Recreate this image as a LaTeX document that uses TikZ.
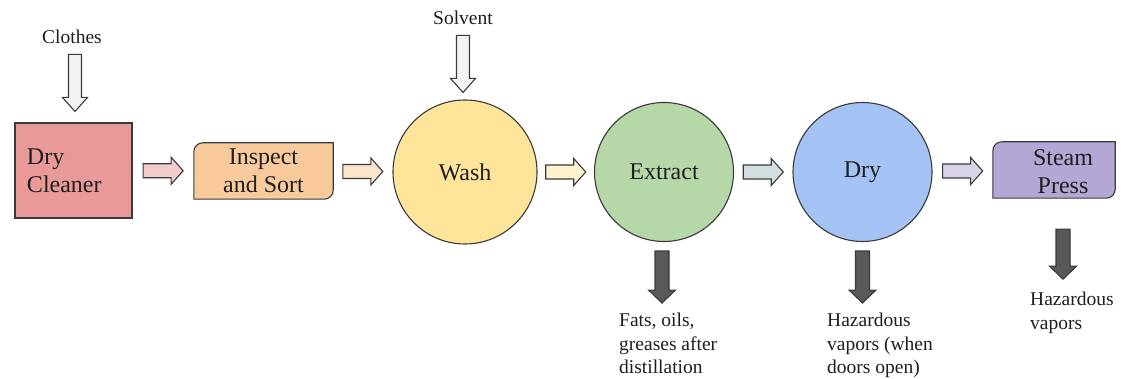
\documentclass[tikz,border=0pt]{standalone}
\usepackage{fontspec}
\setmainfont{LiberationSerif}[Extension=.ttf,UprightFont=*-Regular,BoldFont=*-Bold,ItalicFont=*-Italic,BoldItalicFont=*-BoldItalic]
\usetikzlibrary{calc,backgrounds}
\definecolor{cDC}{HTML}{EA9999}
\definecolor{cIN}{HTML}{F9CB9C}
\definecolor{cWA}{HTML}{FFE599}
\definecolor{cEX}{HTML}{B6D7A8}
\definecolor{cDR}{HTML}{A4C2F4}
\definecolor{cSP}{HTML}{B4A7D6}
\definecolor{aDC}{HTML}{F4CCCC}
\definecolor{aIN}{HTML}{FCE5CD}
\definecolor{aWA}{HTML}{FFF2CC}
\definecolor{aEX}{HTML}{D0E0E3}
\definecolor{aDR}{HTML}{D9D2E9}
\definecolor{aIO}{HTML}{F3F3F3}
\definecolor{aOUT}{HTML}{595959}
\definecolor{edge}{HTML}{3A3A3A}
\definecolor{txt}{HTML}{1E1E1E}
\newcommand{\varrow}[6]{%
  \draw[#6] (#1) ++(-#3,0) -- ++(0,{-(#2-#5)}) -- ++({-(#4-#3)},0) -- ++(#4,-#5)
    -- ++(#4,#5) -- ++({-(#4-#3)},0) -- ++(0,{#2-#5}) -- cycle;}
\newcommand{\harrow}[3]{%
  \path ($(#1.east)!0.5!(#2.west)$) coordinate (#1#2m);
  \draw[blk,fill=#3] (#1#2m) ++(-20,7) -- ++(28,0) -- ++(0,6.5) -- ++(12,-13.5)
    -- ++(-12,-13.5) -- ++(0,6.5) -- ++(-28,0) -- cycle;}
\newcommand{\rbox}[2]{%
  \begin{scope}[on background layer]
  \draw[blk,fill=#2] (#1.south west) -- ([yshift=-9pt]#1.north west)
    arc[start angle=180,end angle=90,radius=9pt] -- (#1.north east)
    -- ([yshift=9pt]#1.south east) arc[start angle=0,end angle=-90,radius=9pt] -- cycle;
  \end{scope}}
\tikzset{
  blk/.style={draw=edge,line width=1.1pt,line join=miter},
  maintext/.style={text=txt,font=\fontsize{24}{28}\selectfont,align=center,inner sep=0pt},
  lbl/.style={text=txt,font=\fontsize{19.5}{23.5}\selectfont,align=left,inner sep=0pt},
  proc/.style={blk,circle,minimum size=#1,inner sep=0pt,maintext},
}
\begin{document}
\begin{tikzpicture}[x=1pt,y=1pt]
\useasboundingbox (0,0) rectangle (1129,-379);
% process nodes
\node[blk,fill=cDC,rectangle,minimum width=117pt,minimum height=95pt,
      text width=93pt,inner xsep=12pt,inner ysep=0pt,align=left,text=txt,
      font=\fontsize{24}{28}\selectfont] (dc) at (73.5,-170.5) {Dry\\Cleaner};
\node[rectangle,minimum width=139pt,minimum height=56pt,maintext] (ins) at (263.5,-171) {Inspect\\and Sort};
\rbox{ins}{cIN}
\node[proc=144pt,fill=cWA] (wash) at (465,-172) {Wash};
\node[proc=139pt,fill=cEX] (ext) at (664,-172) {Extract};
\node[proc=139pt,fill=cDR] (dry) at (862.5,-172) {Dry};
\node[rectangle,minimum width=122pt,minimum height=56pt,inner sep=0pt] (sp) at (1054,-170) {};
\rbox{sp}{cSP}
\node[maintext] (sptext) at (1063,-172) {Steam\\Press};
% labels
\node[lbl] (clothes) at (72,-37) {Clothes};
\node[lbl] (solvent) at (463,-18) {Solvent};
\node[lbl,anchor=north west] (fats) at (619,-313) {Fats, oils,\\greases after\\distillation};
\node[lbl,anchor=north west] (haz1) at (827,-313) {Hazardous\\vapors (when\\doors open)};
\node[lbl,anchor=north west] (haz2) at (1030,-292) {Hazardous\\vapors};
% flow arrows
\harrow{dc}{ins}{aDC}
\harrow{ins}{wash}{aIN}
\harrow{wash}{ext}{aWA}
\harrow{ext}{dry}{aEX}
\harrow{dry}{sp}{aDR}
% inputs
\varrow{$(dc.north)+(1.5,68)$}{57}{6.5}{12.5}{14}{blk,fill=aIO}
\varrow{$(wash.north)+(-2,64)$}{57}{6.5}{12.5}{14}{blk,fill=aIO}
% outputs
\varrow{$(ext.south)+(-2,-9)$}{52}{7}{13.5}{13}{blk,fill=aOUT}
\varrow{$(dry.south)+(0,-9)$}{52}{7}{13.5}{13}{blk,fill=aOUT}
\varrow{$(sp.south)+(9,-31)$}{50}{7}{13.5}{13}{blk,fill=aOUT}
\end{tikzpicture}
\end{document}
